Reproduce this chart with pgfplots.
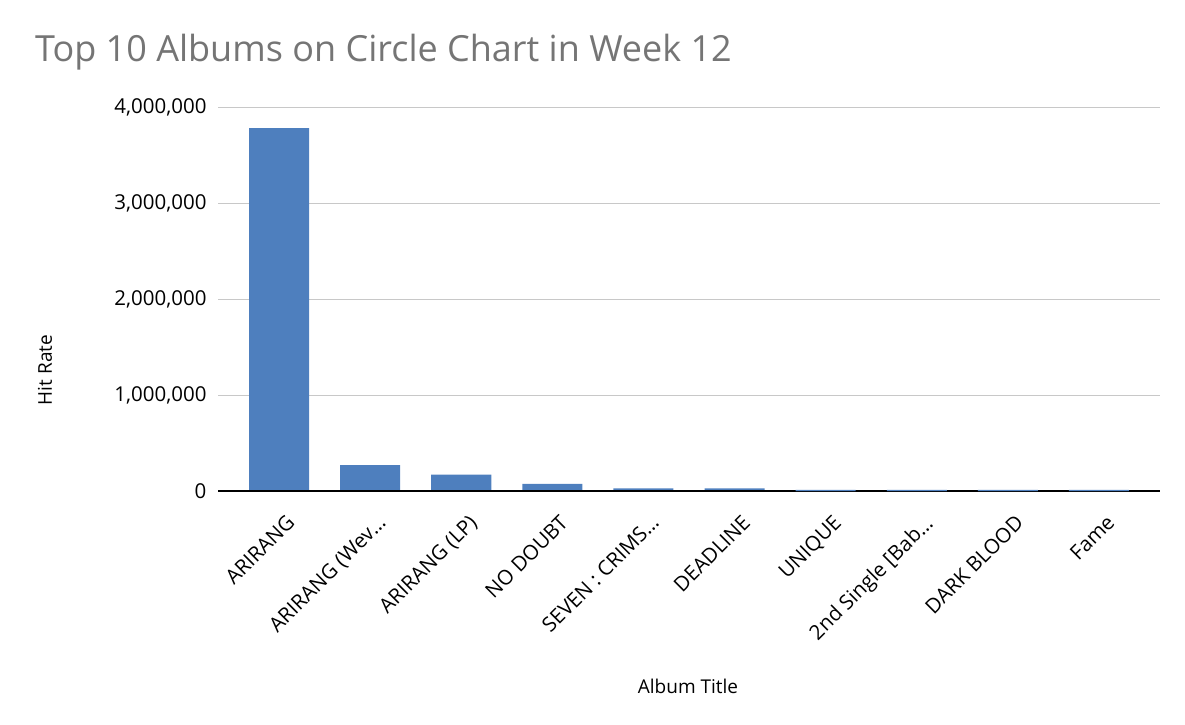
\documentclass[border=0pt]{standalone}
\usepackage{pgfplots}
\pgfplotsset{compat=1.18}
\usepackage{fontspec}
\setmainfont{Open Sans}

\definecolor{barblue}{RGB}{78,127,190}
\definecolor{titlegray}{RGB}{117,117,117}
\definecolor{gridgray}{RGB}{200,200,200}
\definecolor{baseline}{RGB}{51,51,51}

\begin{document}
\begin{tikzpicture}[x=1pt,y=1pt]
    \useasboundingbox (0,0) rectangle (1185,724);

    % titles and axis names
    \node[anchor=base west, font=\fontsize{36}{42}\selectfont, text=titlegray, inner sep=0pt]
        at (35,662) {Top 10 Albums on Circle Chart in Week 12};
    \node[rotate=90, font=\fontsize{19}{22}\selectfont, inner sep=0pt] at (45,354) {Hit Rate};
    \node[font=\fontsize{19}{22}\selectfont, inner sep=0pt] at (688,38) {Album Title};

    \begin{axis}[
        at={(218pt,233pt)}, anchor=south west,
        scale only axis,
        width=942pt, height=384pt,
        ybar, bar width=60pt, bar shift=0pt,
        xmin=-0.67, xmax=9.67,
        ymin=0, ymax=4000000,
        xtick={0,...,9},
        xticklabels={ARIRANG, ARIRANG (Wev…, ARIRANG (LP), NO DOUBT,
                     SEVEN : CRIMS…, DEADLINE, UNIQUE, 2nd Single [Bab…,
                     DARK BLOOD, Fame},
        ytick={0,1000000,2000000,3000000,4000000},
        scaled y ticks=false,
        /pgf/number format/fixed,
        /pgf/number format/1000 sep={,},
        /pgf/number format/assume math mode=true,
        ticklabel style={font=\fontsize{20.5}{24}\selectfont},
        x tick label style={rotate=45, anchor=north east, xshift=-5pt, yshift=-14pt},
        y tick label style={xshift=-8pt},
        axis x line*=bottom, axis y line*=left,
        x axis line style={draw=none},
        y axis line style={draw=none},
        tick style={draw=none},
        ymajorgrids, grid style={gridgray, line width=1pt},
        clip=false,
    ]
        \addplot[fill=barblue, draw=none] coordinates {
            (0,3780000) (1,270000) (2,170000) (3,73000) (4,28000)
            (5,28000)
        };
        \draw[baseline, line width=1.6pt] (axis cs:-0.67,0) -- (axis cs:9.67,0);
        \addplot[fill=barblue, draw=none] coordinates {
            (6,12000) (7,12000) (8,12000) (9,12000)
        };
    \end{axis}
\end{tikzpicture}
\end{document}
